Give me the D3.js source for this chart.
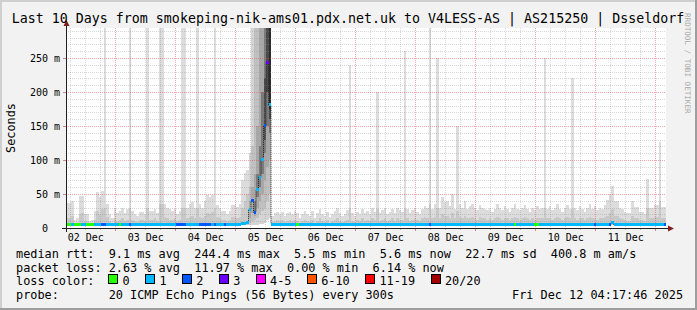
<!DOCTYPE html>
<html lang="en">
<head>
<meta charset="UTF-8">
<title>smokeping 10 days</title>
<script src="https://cdn.jsdelivr.net/npm/d3@7"></script>
<style>
  body { margin: 0; background: #f2f2f2; overflow: hidden; }
  text { font-family: "DejaVu Sans Mono", monospace; white-space: pre; }
</style>
</head>
<body>
<svg id="chart" width="697" height="310"></svg>
<script>
// ---- data (1 step = 1 hour, 24 steps per row = 1 day) ----
const startTime = Date.UTC(2025, 11, 2, 4, 17, 46);
const endTime = Date.UTC(2025, 11, 12, 4, 17, 46);

// top of the light smoke (max ping, ms); null = drawn by the spike arrays
const smokeMax = [
  37,37,40,12,15,47,47,20,20,10,12,25,53,45,55,400,35,20,15,30,22,25,30,22,
  28,400,25,20,18,23,23,20,400,25,25,28,22,400,400,35,30,28,25,28,20,25,400,400,
  30,35,38,30,400,35,30,40,48,45,48,400,34,30,25,25,20,25,34,34,31,35,70,81,
  85,null,null,null,null,null,null,null,null,null,18,22,24,20,24,18,22,24,20,25,22,15,20,25,
  20,18,25,15,22,28,20,18,24,16,20,25,30,22,18,20,26,240,22,18,24,20,28,22,
  25,20,30,24,200,22,26,30,20,24,28,22,30,26,24,260,28,22,26,30,24,20,28,32,
  30,400,28,35,250,30,45,38,40,32,50,28,150,35,30,40,28,32,36,30,26,34,30,28,
  26,30,24,28,35,30,26,32,28,24,30,36,28,26,30,34,28,24,30,26,32,28,30,250,
  28,32,26,30,36,28,24,30,34,28,220,30,26,32,28,24,30,36,28,32,26,30,28,34,
  41,50,62,39,39,30,28,24,22,22,39,31,31,24,24,20,72,29,29,34,34,127,31,31
];
// top of the denser middle smoke (ms)
const smokeMid = [
  14,14,18,8,8,20,22,10,10,7,8,12,25,20,28,30,16,10,8,14,10,12,14,10,
  12,30,12,10,9,12,12,10,30,12,12,14,10,35,35,16,14,12,12,14,10,12,30,30,
  14,16,18,14,30,16,14,18,22,20,24,30,16,14,12,12,10,12,16,16,14,16,30,40,
  50,null,null,null,null,null,null,null,null,null,9,10,12,10,12,9,10,12,10,12,10,8,10,12,
  10,9,12,8,10,14,10,9,12,8,10,12,14,10,9,10,12,30,10,9,12,10,14,10,
  12,10,14,12,28,10,12,14,10,12,14,10,14,12,12,30,14,10,12,14,12,10,14,16,
  14,35,14,16,30,14,20,18,18,15,22,14,25,16,14,18,14,15,16,14,12,16,14,14,
  12,14,12,14,16,14,12,15,14,12,14,16,14,12,14,16,14,12,14,12,15,14,14,30,
  14,15,12,14,16,14,12,14,16,14,28,14,12,15,14,12,14,16,14,15,12,14,14,16,
  18,22,28,18,18,14,13,12,11,11,18,14,14,12,12,10,30,14,14,16,16,40,14,14
];
const smokeFloor = 4.5;

// median rtt (ms)
const medianMs = [
  5.5,5.5,5.5,5.5,5.5,5.5,5.5,5.5,5.5,5.5,5.5,5.5,5.5,5.5,5.5,5.5,5.5,5.5,5.5,5.5,5.5,5.5,5.5,5.5,
  5.5,5.5,5.5,5.5,5.5,5.5,5.5,5.5,5.5,5.5,5.5,5.5,5.5,5.5,5.5,5.5,5.5,5.5,5.5,5.5,5.5,5.5,5.5,5.5,
  5.5,5.5,5.5,5.5,5.5,5.5,5.5,5.5,5.5,5.5,5.5,5.5,5.5,5.5,5.5,5.5,5.5,5.5,5.5,5.5,5.5,5.5,6,6.5,
  7.5,27.5,40,23,56,74,100,150,244,181,5.5,5.5,5.5,5.5,5.5,5.5,5.5,5.5,5.5,5.5,5.5,5.5,5.5,5.5,
  5.5,5.5,5.5,5.5,5.5,5.5,5.5,5.5,5.5,5.5,5.5,5.5,5.5,5.5,5.5,5.5,5.5,5.5,5.5,5.5,5.5,5.5,5.5,5.5,
  5.5,5.5,5.5,5.5,5.5,5.5,5.5,5.5,5.5,5.5,5.5,5.5,5.5,5.5,5.5,5.5,5.5,5.5,5.5,5.5,5.5,5.5,5.5,5.5,
  5.5,5.5,5.5,5.5,5.5,5.5,5.5,5.5,5.5,5.5,5.5,5.5,5.5,5.5,5.5,5.5,5.5,5.5,5.5,5.5,5.5,5.5,5.5,5.5,
  5.5,5.5,5.5,5.5,5.5,5.5,5.5,5.5,5.5,5.5,5.5,5.5,5.5,5.5,5.5,5.5,5.5,5.5,5.5,5.5,5.5,5.5,5.5,5.5,
  5.5,5.5,5.5,5.5,5.5,5.5,5.5,5.5,5.5,5.5,5.5,5.5,5.5,5.5,5.5,5.5,5.5,5.5,5.5,5.5,5.5,5.5,5.5,5.5,
  5.5,5.5,8,5.5,5.5,5.5,5.5,5.5,5.5,5.5,5.5,5.5,5.5,5.5,5.5,5.5,5.5,5.5,5.5,5.5,5.5,5.5,5.5,5.5
];
// lost pings out of 20
const lossCount = [
  0,0,1,0,0,0,1,1,0,0,0,1,1,1,2,2,1,1,1,1,1,0,1,1,
  1,2,1,1,1,1,1,1,1,1,1,1,1,1,1,1,1,1,1,1,2,2,2,2,
  1,1,1,1,1,2,2,2,2,2,1,2,1,1,1,2,1,1,1,1,1,1,1,1,
  1,1,2,2,1,1,1,2,3,1,1,1,1,1,1,1,1,1,1,1,0,1,1,1,
  1,1,1,1,1,1,1,1,1,1,1,1,1,1,1,1,1,1,1,1,1,1,1,1,
  1,1,1,1,1,1,1,1,1,1,1,1,1,1,1,1,1,1,1,1,1,1,1,1,
  1,2,1,1,1,1,1,1,1,1,1,1,1,1,1,1,1,1,1,1,1,1,1,1,
  1,1,1,1,1,1,1,1,1,1,1,0,1,1,1,1,1,1,1,0,0,1,1,1,
  1,1,1,1,1,1,1,1,1,1,1,1,1,1,1,1,1,1,1,2,1,1,1,1,
  1,2,1,1,1,1,1,1,1,1,1,1,1,1,1,1,1,1,1,1,1,1,1,2
];

// the 05 Dec event, steps 73..81: nested smoke bands [low, high] in ms
const spikeFirst = 73;
const spikeColors = ["#d4d4d4", "#c0c0c0", "#a8a8a8", "#7a7a7a", "#4a4a4a", "#2a2a2a"];
const spikeLo = [
  [5, 8, 15, null, null, null],
  [5, 10, 22, null, null, null],
  [5, 12, 18, 20, null, null],
  [5, 15, 30, 45, null, null],
  [6, 20, 40, 60, null, null],
  [6, 25, 50, 80, null, null],
  [8, 30, 70, 110, 130, null],
  [12, 40, 90, 150, 200, null],
  [15, 50, 100, 140, 160, 175]
];
const spikeHi = [
  [110, 60, 40, null, null, null],
  [400, 120, 60, null, null, null],
  [400, 400, 80, 40, null, null],
  [400, 400, 150, 80, null, null],
  [400, 400, 400, 120, null, null],
  [400, 400, 400, 200, null, null],
  [400, 400, 400, 400, 220, null],
  [400, 400, 400, 400, 400, null],
  [400, 400, 400, 400, 400, 400]
];

const yTicks = [0, 50, 100, 150, 200, 250];
const lossLabels = ["0", "1", "2", "3", "4-5", "6-10", "11-19", "20/20"];
const lossUpper = [0, 1, 2, 3, 5, 10, 19, 20];
const lossColors = ["#26ff00", "#00b8ff", "#0059ff", "#6a00ff", "#ff00ff", "#ff5500", "#ff0000", "#a10000"];

const title = "Last 10 Days from smokeping-nik-ams01.pdx.net.uk to V4LESS-AS | AS215250 | Dsseldorf";
const legendRtt = "median rtt:  9.1 ms avg  244.4 ms max  5.5 ms min  5.6 ms now  22.7 ms sd  400.8 m am/s";
const legendLoss = "packet loss: 2.63 % avg  11.97 % max  0.00 % min  6.14 % now";
const legendProbe = "probe:       20 ICMP Echo Pings (56 Bytes) every 300s";
const stamp = "Fri Dec 12 04:17:46 2025";

// ---- drawing ----
const W = 697, H = 310;
const plotL = 66, plotR = 666, plotT = 28, plotB = 228;
const HOUR = 3600e3;
const nSteps = medianMs.length;

const x = d3.scaleUtc().domain([startTime, endTime]).range([plotL, plotR]);
const y = d3.scaleLinear().domain([0, 294.1]).range([plotB, plotT]);
const sx = i => x(startTime + i * HOUR);
const lossColor = n => lossColors[lossUpper.findIndex(u => n <= u)];

const svg = d3.select("#chart");

// background with the 3d border
svg.append("rect").attr("width", W).attr("height", H).attr("fill", "#f2f2f2");
svg.append("path").attr("d", `M0,0H${W}V2H2V${H}H0Z`).attr("fill", "#cfcfcf");
svg.append("path").attr("d", `M${W},${H}H0V${H - 2}H${W - 2}V0H${W}Z`).attr("fill", "#9e9e9e");

svg.append("defs").append("clipPath").attr("id", "plotclip")
  .append("rect").attr("x", plotL).attr("y", plotT).attr("width", plotR - plotL).attr("height", plotB - plotT);

svg.append("rect").attr("x", plotL).attr("y", plotT)
  .attr("width", plotR - plotL).attr("height", plotB - plotT).attr("fill", "#fff");

// smoke
const smoke = svg.append("g").attr("clip-path", "url(#plotclip)").attr("shape-rendering", "crispEdges");
const normal = d3.range(nSteps).filter(i => smokeMax[i] != null);
smoke.selectAll("rect.outer").data(normal).join("rect").attr("class", "outer")
  .attr("x", i => sx(i)).attr("width", i => sx(i + 1) - sx(i))
  .attr("y", i => y(smokeMax[i])).attr("height", i => y(smokeFloor) - y(smokeMax[i]))
  .attr("fill", "#dcdcdc");
smoke.selectAll("rect.mid").data(normal).join("rect").attr("class", "mid")
  .attr("x", i => sx(i)).attr("width", i => sx(i + 1) - sx(i))
  .attr("y", i => y(smokeMid[i])).attr("height", i => y(smokeFloor) - y(smokeMid[i]))
  .attr("fill", "#c8c8c8");

spikeColors.forEach((col, k) => {
  const steps = d3.range(spikeLo.length).filter(j => spikeLo[j][k] != null);
  smoke.selectAll("rect.band" + k).data(steps).join("rect").attr("class", "band" + k)
    .attr("x", j => sx(spikeFirst + j)).attr("width", j => sx(spikeFirst + j + 1) - sx(spikeFirst + j))
    .attr("y", j => y(spikeHi[j][k])).attr("height", j => y(spikeLo[j][k]) - y(spikeHi[j][k]))
    .attr("fill", col);
});

// grid
const grid = svg.append("g").attr("shape-rendering", "crispEdges");
const midnights = d3.utcDay.range(startTime, endTime);
const sixHours = d3.utcHour.every(6).range(startTime, endTime).filter(d => d.getUTCHours() !== 0);
const px = v => Math.round(v) + 0.5;

grid.selectAll("line.vmin").data(sixHours).join("line")
  .attr("x1", d => px(x(d))).attr("x2", d => px(x(d))).attr("y1", plotT).attr("y2", plotB)
  .attr("stroke", "rgb(143,143,143)").attr("stroke-opacity", 0.35).attr("stroke-dasharray", "1,1");
const yMinor = d3.range(10, 295, 10).filter(v => v % 50 !== 0);
grid.selectAll("line.hmin").data(yMinor).join("line")
  .attr("x1", plotL).attr("x2", plotR).attr("y1", d => px(y(d))).attr("y2", d => px(y(d)))
  .attr("stroke", "rgb(143,143,143)").attr("stroke-opacity", 0.35).attr("stroke-dasharray", "1,1");
grid.selectAll("line.vmaj").data(midnights).join("line")
  .attr("x1", d => px(x(d))).attr("x2", d => px(x(d))).attr("y1", plotT).attr("y2", plotB)
  .attr("stroke", "rgb(222,79,79)").attr("stroke-opacity", 0.5).attr("stroke-dasharray", "1,1");
grid.selectAll("line.hmaj").data(yTicks.filter(v => v > 0)).join("line")
  .attr("x1", plotL).attr("x2", plotR).attr("y1", d => px(y(d))).attr("y2", d => px(y(d)))
  .attr("stroke", "rgb(222,79,79)").attr("stroke-opacity", 0.5).attr("stroke-dasharray", "1,1");

// small ticks outside the canvas
grid.selectAll("line.tmaj").data(midnights).join("line")
  .attr("x1", d => px(x(d))).attr("x2", d => px(x(d))).attr("y1", plotB).attr("y2", plotB + 3)
  .attr("stroke", "rgb(222,79,79)").attr("stroke-opacity", 0.7);
grid.selectAll("line.tmin").data(sixHours).join("line")
  .attr("x1", d => px(x(d))).attr("x2", d => px(x(d))).attr("y1", plotB).attr("y2", plotB + 2)
  .attr("stroke", "rgb(143,143,143)").attr("stroke-opacity", 0.6);
grid.selectAll("line.ytick").data(yTicks.filter(v => v > 0)).join("line")
  .attr("x1", plotL - 3).attr("x2", plotL).attr("y1", d => px(y(d))).attr("y2", d => px(y(d)))
  .attr("stroke", "rgb(222,79,79)").attr("stroke-opacity", 0.7);

// median: thin dotted step line under the loss coloured segments
const medLine = d3.line().curve(d3.curveStepAfter).x(d => sx(d[0])).y(d => y(d[1]));
const medPts = d3.range(nSteps).map(i => [i, medianMs[i]]).concat([[nSteps, medianMs[nSteps - 1]]]);
svg.append("path").attr("clip-path", "url(#plotclip)").attr("d", medLine(medPts))
  .attr("fill", "none").attr("stroke", "#202020").attr("stroke-width", 1).attr("stroke-dasharray", "1,1");
svg.append("g").attr("clip-path", "url(#plotclip)").attr("shape-rendering", "crispEdges")
  .selectAll("rect").data(d3.range(nSteps)).join("rect")
  .attr("x", i => sx(i)).attr("width", i => sx(i + 1) - sx(i))
  .attr("y", i => y(medianMs[i]) - 1.5).attr("height", 3)
  .attr("fill", i => lossColor(lossCount[i]));

// axes and arrows
const axes = svg.append("g").attr("shape-rendering", "crispEdges");
axes.append("line").attr("x1", plotL - 4).attr("x2", plotR + 4).attr("y1", plotB + 0.5).attr("y2", plotB + 0.5)
  .attr("stroke", "#1f1f1f");
axes.append("line").attr("x1", plotL + 0.5).attr("x2", plotL + 0.5).attr("y1", plotB + 4).attr("y2", plotT - 4)
  .attr("stroke", "#1f1f1f");
svg.append("path").attr("d", `M${plotR + 2},${plotB - 2.5}L${plotR + 2},${plotB + 3.5}L${plotR + 8},${plotB + 0.5}Z`)
  .attr("fill", "#801f1f");
svg.append("path").attr("d", `M${plotL - 2.5},${plotT - 2}L${plotL + 3.5},${plotT - 2}L${plotL + 0.5},${plotT - 8}Z`)
  .attr("fill", "#801f1f");

// axis labels
const noons = d3.utcDay.range(d3.utcDay.floor(new Date(startTime)), endTime)
  .map(d => new Date(+d + 12 * HOUR)).filter(d => +d >= startTime && +d <= endTime);
const xAxis = svg.append("g").attr("transform", `translate(0,${plotB})`)
  .call(d3.axisBottom(x).tickValues(noons).tickFormat(d3.utcFormat("%d %b")).tickSize(0).tickPadding(5.5));
xAxis.select(".domain").remove();
xAxis.selectAll("text").attr("font-size", "10px").attr("fill", "#000")
  .style("font-family", "'DejaVu Sans Mono', monospace");

const yAxis = svg.append("g").attr("transform", `translate(${plotL},0)`)
  .call(d3.axisLeft(y).tickValues(yTicks).tickFormat(d => d === 0 ? "0  " : d + " m").tickSize(0).tickPadding(6));
yAxis.select(".domain").remove();
yAxis.selectAll("text").attr("font-size", "10px").attr("fill", "#000")
  .attr("xml:space", "preserve").style("white-space", "pre")
  .style("font-family", "'DejaVu Sans Mono', monospace");

svg.append("text").attr("x", 348).attr("y", 22.5).attr("text-anchor", "middle")
  .attr("font-size", "13.3px").text(title);
svg.append("text").attr("transform", "translate(14.5,128) rotate(-90)").attr("text-anchor", "middle")
  .attr("font-size", "11.85px").text("Seconds");
svg.append("text").attr("transform", "translate(685,13) rotate(90)")
  .attr("font-size", "7.6px").attr("fill", "#aaa").text("RRDTOOL / TOBI OETIKER");

// legend
const fs = 11.85, charW = fs * 0.602;
const rows = [258, 271.7, 285.4, 299.1];
const leg = svg.append("g").attr("font-size", fs + "px");
const legText = (xx, yy, s) => leg.append("text").attr("x", xx).attr("y", yy)
  .attr("xml:space", "preserve").style("white-space", "pre").text(s);
legText(16, rows[0], legendRtt);
legText(16, rows[1], legendLoss);
legText(16, rows[2], "loss color:");
legText(16, rows[3], legendProbe);
legText(512, rows[3], stamp);

let bx = 108.3;
lossLabels.forEach((lab, k) => {
  leg.append("rect").attr("x", Math.round(bx) + 0.5).attr("y", 274.5).attr("width", 9).attr("height", 9)
    .attr("fill", lossColors[k]).attr("stroke", "#000").attr("stroke-width", 1);
  const lx = bx + 14.2;
  legText(lx, rows[2], lab);
  bx = lx + lab.length * charW + 15.55;
});
</script>
</body>
</html>
